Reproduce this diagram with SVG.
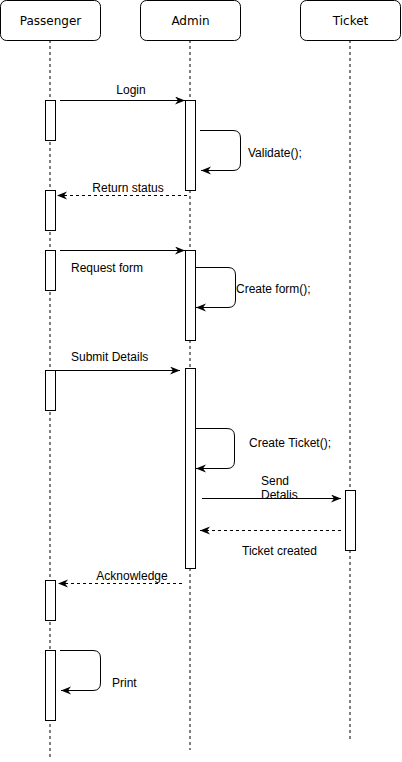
<svg xmlns="http://www.w3.org/2000/svg" width="402" height="762" viewBox="0 0 402 762">
<style>
.hdr{fill:#fff;stroke:#000;stroke-width:1}
.htxt{font-family:"DejaVu Sans",Verdana,sans-serif;font-size:12px;fill:#000;text-anchor:middle}
.life{stroke:#000;stroke-width:1;stroke-dasharray:3,3;fill:none}
.act{fill:#fff;stroke:#000;stroke-width:1}
.msg{stroke:#000;stroke-width:1;fill:none;marker-end:url(#arr)}
.ret{stroke:#000;stroke-width:1;fill:none;stroke-dasharray:3,3;marker-end:url(#arr)}
.lbl{font-family:"Liberation Sans",Arial,sans-serif;font-size:12px;fill:#000}
.mid{text-anchor:middle}
</style>
<defs>
<marker id="arr" markerWidth="12" markerHeight="10" refX="10" refY="4" orient="auto" markerUnits="userSpaceOnUse">
<path d="M0,0 L10,4 L0,8 L3,4 Z" fill="#000"/>
</marker>
</defs>
<g id="lifelines">
<line class="life" x1="50" y1="40" x2="50" y2="757"/>
<line class="life" x1="190" y1="40" x2="190" y2="750"/>
<line class="life" x1="350" y1="40" x2="350" y2="740"/>
</g>
<g id="passenger"><rect class="hdr" x="0.5" y="0.5" width="100" height="40" rx="6"/><text class="htxt" x="50.5" y="24.5">Passenger</text></g>
<g id="admin"><rect class="hdr" x="140.5" y="0.5" width="100" height="40" rx="6"/><text class="htxt" x="190.5" y="24.5">Admin</text></g>
<g id="ticket"><rect class="hdr" x="300.5" y="0.5" width="100" height="40" rx="6"/><text class="htxt" x="350.5" y="24.5">Ticket</text></g>
<g id="activations">
<rect class="act" x="45.5" y="100.5" width="10" height="40"/>
<rect class="act" x="45.5" y="190.5" width="10" height="40"/>
<rect class="act" x="45.5" y="250.5" width="10" height="40"/>
<rect class="act" x="45.5" y="370.5" width="10" height="40"/>
<rect class="act" x="45.5" y="580.5" width="10" height="40"/>
<rect class="act" x="45.5" y="650.5" width="10" height="70"/>
<rect class="act" x="185.5" y="100.5" width="10" height="90"/>
<rect class="act" x="185.5" y="250.5" width="10" height="90"/>
<rect class="act" x="185.5" y="368.5" width="10" height="200"/>
<rect class="act" x="345.5" y="490.5" width="10" height="60"/>
</g>
<g id="connectors">
<path class="msg" d="M60,100.5 L185,100.5"/>
<path class="msg" d="M200,130.5 L233,130.5 Q240.5,130.5 240.5,138 L240.5,163 Q240.5,170.5 233,170.5 L201,170.5"/>
<path class="ret" d="M187,195.5 L57,195.5"/>
<path class="msg" d="M60,250.5 L185,250.5"/>
<path class="msg" d="M195.5,267.5 L228,267.5 Q235.5,267.5 235.5,275 L235.5,300 Q235.5,307.5 228,307.5 L196,307.5"/>
<path class="msg" d="M55.5,370.5 L180,370.5"/>
<path class="msg" d="M195.5,428.5 L227,428.5 Q234.5,428.5 234.5,436 L234.5,461 Q234.5,468.5 227,468.5 L196,468.5"/>
<path class="msg" d="M202,498.5 L341,498.5"/>
<path class="ret" d="M341,530.5 L200,530.5"/>
<path class="ret" d="M182,583.5 L58,583.5"/>
<path class="msg" d="M60,650.5 L93,650.5 Q100.5,650.5 100.5,658 L100.5,683 Q100.5,690.5 93,690.5 L61,690.5"/>
</g>
<g id="labels">
<text class="lbl mid" x="131" y="94">Login</text>
<text class="lbl" x="248" y="157">Validate();</text>
<text class="lbl mid" x="128" y="192">Return status</text>
<text class="lbl" x="71" y="272">Request form</text>
<text class="lbl" x="236" y="293">Create form();</text>
<text class="lbl" x="71" y="361">Submit Details</text>
<text class="lbl" x="249" y="447">Create Ticket();</text>
<text class="lbl" x="261" y="485">Send</text>
<text class="lbl" x="261" y="499">Detalis</text>
<text class="lbl" x="242" y="555">Ticket created</text>
<text class="lbl mid" x="132" y="580">Acknowledge</text>
<text class="lbl" x="112" y="687">Print</text>
</g>
</svg>
